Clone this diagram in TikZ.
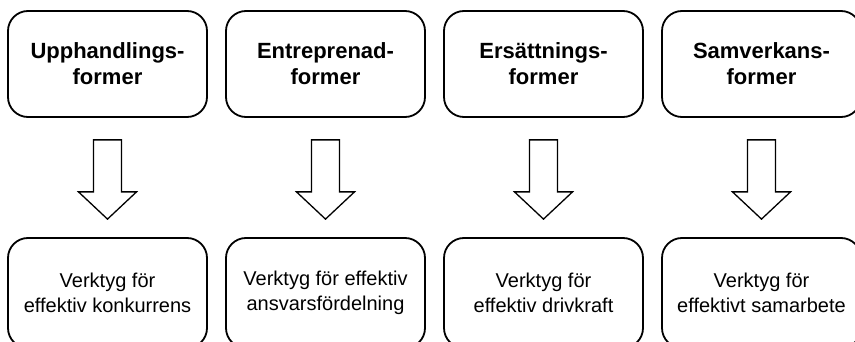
\documentclass[tikz,border=0pt]{standalone}
\usepackage{fontspec}
\setmainfont{Liberation Sans}
\usetikzlibrary{calc}
\begin{document}
\begin{tikzpicture}[x=1pt,y=-1pt,
  formbox/.style={draw=black, line width=1.8pt, rounded corners=20pt,
    minimum width=199pt, minimum height=106pt, align=center, inner sep=0pt},
  headbox/.style={formbox, font=\fontsize{22}{26}\selectfont\bfseries},
  toolbox/.style={formbox, minimum height=110pt, font=\fontsize{20}{24.5}\selectfont},
  hollowarrow/.style={draw=black, line width=1.3pt, fill=white, line join=miter}]
\useasboundingbox (0,0) rectangle (855,342);

\node[headbox] (t1) at (107.5,64) {Upphandlings-\\former};
\node[headbox] (t2) at (325.5,64) {Entreprenad-\\former};
\node[headbox] (t3) at (543.5,64) {Ersättnings-\\former};
\node[headbox] (t4) at (761.5,64) {Samverkans-\\former};

\node[toolbox] (b1) at (107.5,293) {Verktyg för\\effektiv konkurrens};
\node[toolbox] (b2) at (325.5,293) {Verktyg för effektiv\\ansvarsfördelning};
\node[toolbox] (b3) at (543.5,293) {Verktyg för\\effektiv drivkraft};
\node[toolbox] (b4) at (761.5,293) {Verktyg för\\effektivt samarbete};

% hollow block arrows from each heading to its tool box
\foreach \i in {1,...,4}{
  \coordinate (a\i) at ($(t\i.south)+(0,22)$);
  \draw[hollowarrow] ($(a\i)+(-14,0)$) -- ($(a\i)+(14,0)$) -- ($(a\i)+(14,52)$)
    -- ($(a\i)+(29,52)$) -- ($(b\i.north)+(0,-18)$) -- ($(a\i)+(-29,52)$)
    -- ($(a\i)+(-14,52)$) -- cycle;
}
\end{tikzpicture}
\end{document}
